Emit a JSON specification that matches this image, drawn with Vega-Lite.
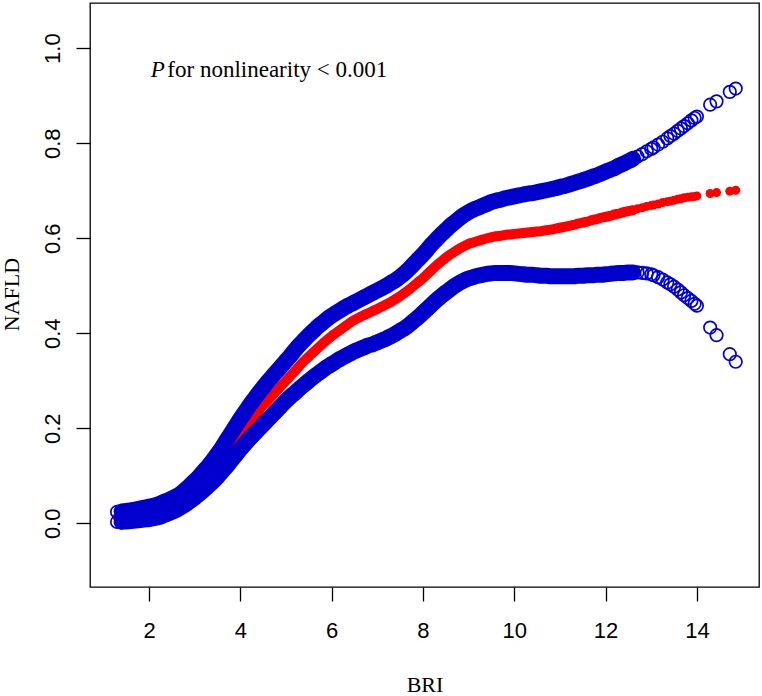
{
"$schema":"https://vega.github.io/schema/vega-lite/v6.json",
"width":669,"height":584,
"autosize":"none",
"padding":{"left":90,"top":3,"right":3,"bottom":109},
"background":"white",
"config":{
"view":{"stroke":"#000","strokeWidth":1.3},
"axis":{"grid":false,"domain":false,"tickColor":"#000","tickWidth":1.3,"tickSize":14,"labelFont":"Liberation Sans","labelFontSize":22,"labelColor":"#000","titleFont":"Liberation Serif","titleFontSize":22,"titleFontWeight":"normal","titleColor":"#000","labelFlush":false,"labelOverlap":false}
},
"data":{"values":[
{"x":1.3,"fit":0.013,"lo":0.003,"hi":0.024},
{"x":1.4,"fit":0.014,"lo":0.003,"hi":0.025},
{"x":1.5,"fit":0.015,"lo":0.004,"hi":0.026},
{"x":1.6,"fit":0.016,"lo":0.005,"hi":0.027},
{"x":1.7,"fit":0.017,"lo":0.006,"hi":0.029},
{"x":1.8,"fit":0.019,"lo":0.007,"hi":0.031},
{"x":1.9,"fit":0.020,"lo":0.008,"hi":0.033},
{"x":2.0,"fit":0.022,"lo":0.009,"hi":0.035},
{"x":2.1,"fit":0.024,"lo":0.011,"hi":0.037},
{"x":2.2,"fit":0.027,"lo":0.013,"hi":0.040},
{"x":2.3,"fit":0.030,"lo":0.016,"hi":0.044},
{"x":2.4,"fit":0.034,"lo":0.020,"hi":0.048},
{"x":2.5,"fit":0.038,"lo":0.024,"hi":0.052},
{"x":2.6,"fit":0.043,"lo":0.028,"hi":0.057},
{"x":2.7,"fit":0.049,"lo":0.034,"hi":0.063},
{"x":2.8,"fit":0.056,"lo":0.040,"hi":0.071},
{"x":2.9,"fit":0.064,"lo":0.047,"hi":0.080},
{"x":3.0,"fit":0.072,"lo":0.054,"hi":0.089},
{"x":3.1,"fit":0.081,"lo":0.062,"hi":0.099},
{"x":3.2,"fit":0.090,"lo":0.070,"hi":0.110},
{"x":3.3,"fit":0.100,"lo":0.079,"hi":0.121},
{"x":3.4,"fit":0.110,"lo":0.088,"hi":0.133},
{"x":3.5,"fit":0.121,"lo":0.098,"hi":0.146},
{"x":3.6,"fit":0.133,"lo":0.109,"hi":0.160},
{"x":3.7,"fit":0.146,"lo":0.120,"hi":0.175},
{"x":3.8,"fit":0.160,"lo":0.132,"hi":0.190},
{"x":3.9,"fit":0.175,"lo":0.144,"hi":0.205},
{"x":4.0,"fit":0.189,"lo":0.156,"hi":0.220},
{"x":4.1,"fit":0.202,"lo":0.167,"hi":0.234},
{"x":4.2,"fit":0.214,"lo":0.178,"hi":0.248},
{"x":4.3,"fit":0.225,"lo":0.188,"hi":0.261},
{"x":4.4,"fit":0.237,"lo":0.198,"hi":0.274},
{"x":4.5,"fit":0.248,"lo":0.208,"hi":0.286},
{"x":4.6,"fit":0.258,"lo":0.218,"hi":0.298},
{"x":4.7,"fit":0.269,"lo":0.228,"hi":0.309},
{"x":4.8,"fit":0.279,"lo":0.238,"hi":0.320},
{"x":4.9,"fit":0.290,"lo":0.248,"hi":0.331},
{"x":5.0,"fit":0.300,"lo":0.258,"hi":0.342},
{"x":5.1,"fit":0.311,"lo":0.267,"hi":0.353},
{"x":5.2,"fit":0.321,"lo":0.275,"hi":0.365},
{"x":5.3,"fit":0.332,"lo":0.284,"hi":0.376},
{"x":5.4,"fit":0.342,"lo":0.292,"hi":0.386},
{"x":5.5,"fit":0.351,"lo":0.300,"hi":0.396},
{"x":5.6,"fit":0.360,"lo":0.308,"hi":0.405},
{"x":5.7,"fit":0.369,"lo":0.315,"hi":0.414},
{"x":5.8,"fit":0.378,"lo":0.322,"hi":0.422},
{"x":5.9,"fit":0.386,"lo":0.329,"hi":0.430},
{"x":6.0,"fit":0.394,"lo":0.335,"hi":0.437},
{"x":6.1,"fit":0.401,"lo":0.341,"hi":0.443},
{"x":6.2,"fit":0.408,"lo":0.347,"hi":0.449},
{"x":6.3,"fit":0.415,"lo":0.352,"hi":0.455},
{"x":6.4,"fit":0.422,"lo":0.357,"hi":0.460},
{"x":6.5,"fit":0.428,"lo":0.362,"hi":0.465},
{"x":6.6,"fit":0.433,"lo":0.366,"hi":0.470},
{"x":6.7,"fit":0.438,"lo":0.370,"hi":0.475},
{"x":6.8,"fit":0.442,"lo":0.374,"hi":0.480},
{"x":6.9,"fit":0.447,"lo":0.377,"hi":0.485},
{"x":7.0,"fit":0.451,"lo":0.381,"hi":0.490},
{"x":7.1,"fit":0.456,"lo":0.385,"hi":0.495},
{"x":7.2,"fit":0.461,"lo":0.389,"hi":0.500},
{"x":7.3,"fit":0.466,"lo":0.394,"hi":0.506},
{"x":7.4,"fit":0.472,"lo":0.399,"hi":0.512},
{"x":7.5,"fit":0.478,"lo":0.405,"hi":0.519},
{"x":7.6,"fit":0.485,"lo":0.411,"hi":0.527},
{"x":7.7,"fit":0.492,"lo":0.418,"hi":0.536},
{"x":7.8,"fit":0.500,"lo":0.426,"hi":0.546},
{"x":7.9,"fit":0.508,"lo":0.434,"hi":0.556},
{"x":8.0,"fit":0.516,"lo":0.443,"hi":0.566},
{"x":8.1,"fit":0.525,"lo":0.452,"hi":0.577},
{"x":8.2,"fit":0.534,"lo":0.461,"hi":0.588},
{"x":8.3,"fit":0.543,"lo":0.470,"hi":0.598},
{"x":8.4,"fit":0.551,"lo":0.478,"hi":0.608},
{"x":8.5,"fit":0.559,"lo":0.486,"hi":0.617},
{"x":8.6,"fit":0.566,"lo":0.493,"hi":0.626},
{"x":8.7,"fit":0.572,"lo":0.500,"hi":0.634},
{"x":8.8,"fit":0.578,"lo":0.506,"hi":0.642},
{"x":8.9,"fit":0.583,"lo":0.511,"hi":0.649},
{"x":9.0,"fit":0.588,"lo":0.515,"hi":0.655},
{"x":9.1,"fit":0.591,"lo":0.518,"hi":0.660},
{"x":9.2,"fit":0.594,"lo":0.521,"hi":0.664},
{"x":9.3,"fit":0.597,"lo":0.523,"hi":0.668},
{"x":9.4,"fit":0.600,"lo":0.525,"hi":0.672},
{"x":9.5,"fit":0.602,"lo":0.526,"hi":0.676},
{"x":9.6,"fit":0.604,"lo":0.527,"hi":0.679},
{"x":9.7,"fit":0.605,"lo":0.527,"hi":0.681},
{"x":9.8,"fit":0.607,"lo":0.527,"hi":0.684},
{"x":9.9,"fit":0.608,"lo":0.527,"hi":0.686},
{"x":10.0,"fit":0.609,"lo":0.526,"hi":0.688},
{"x":10.1,"fit":0.610,"lo":0.525,"hi":0.690},
{"x":10.2,"fit":0.611,"lo":0.524,"hi":0.692},
{"x":10.3,"fit":0.612,"lo":0.523,"hi":0.694},
{"x":10.4,"fit":0.613,"lo":0.523,"hi":0.695},
{"x":10.5,"fit":0.614,"lo":0.522,"hi":0.697},
{"x":10.6,"fit":0.615,"lo":0.521,"hi":0.699},
{"x":10.7,"fit":0.617,"lo":0.521,"hi":0.701},
{"x":10.8,"fit":0.618,"lo":0.520,"hi":0.703},
{"x":10.9,"fit":0.620,"lo":0.520,"hi":0.705},
{"x":11.0,"fit":0.622,"lo":0.520,"hi":0.708},
{"x":11.1,"fit":0.624,"lo":0.520,"hi":0.710},
{"x":11.2,"fit":0.626,"lo":0.520,"hi":0.713},
{"x":11.3,"fit":0.628,"lo":0.520,"hi":0.716},
{"x":11.4,"fit":0.631,"lo":0.521,"hi":0.719},
{"x":11.5,"fit":0.633,"lo":0.521,"hi":0.722},
{"x":11.6,"fit":0.635,"lo":0.522,"hi":0.725},
{"x":11.7,"fit":0.638,"lo":0.522,"hi":0.729},
{"x":11.8,"fit":0.640,"lo":0.523,"hi":0.732},
{"x":11.9,"fit":0.643,"lo":0.523,"hi":0.736},
{"x":12.0,"fit":0.645,"lo":0.524,"hi":0.740},
{"x":12.1,"fit":0.647,"lo":0.525,"hi":0.744},
{"x":12.2,"fit":0.650,"lo":0.526,"hi":0.748},
{"x":12.3,"fit":0.652,"lo":0.527,"hi":0.753},
{"x":12.4,"fit":0.655,"lo":0.527,"hi":0.757},
{"x":12.5,"fit":0.657,"lo":0.528,"hi":0.762},
{"x":12.6,"fit":0.659,"lo":0.528,"hi":0.767},
{"x":12.7,"fit":0.662,"lo":0.528,"hi":0.772},
{"x":12.8,"fit":0.664,"lo":0.527,"hi":0.777},
{"x":12.9,"fit":0.667,"lo":0.526,"hi":0.783},
{"x":13.0,"fit":0.669,"lo":0.524,"hi":0.788},
{"x":13.05,"fit":0.670,"lo":0.522,"hi":0.791},
{"x":13.15,"fit":0.672,"lo":0.518,"hi":0.797},
{"x":13.25,"fit":0.675,"lo":0.513,"hi":0.803},
{"x":13.35,"fit":0.677,"lo":0.507,"hi":0.810},
{"x":13.42,"fit":0.678,"lo":0.503,"hi":0.815},
{"x":13.5,"fit":0.680,"lo":0.498,"hi":0.820},
{"x":13.58,"fit":0.682,"lo":0.492,"hi":0.826},
{"x":13.65,"fit":0.683,"lo":0.486,"hi":0.831},
{"x":13.72,"fit":0.685,"lo":0.480,"hi":0.836},
{"x":13.8,"fit":0.686,"lo":0.474,"hi":0.842},
{"x":13.88,"fit":0.687,"lo":0.468,"hi":0.848},
{"x":13.95,"fit":0.688,"lo":0.462,"hi":0.853},
{"x":14.0,"fit":0.689,"lo":0.458,"hi":0.856},
{"x":14.29,"fit":0.694,"lo":0.412,"hi":0.881},
{"x":14.43,"fit":0.696,"lo":0.396,"hi":0.888},
{"x":14.72,"fit":0.699,"lo":0.356,"hi":0.908},
{"x":14.85,"fit":0.701,"lo":0.340,"hi":0.915}
]},
"encoding":{
"x":{"field":"x","type":"quantitative","scale":{"domain":[0.707,15.36],"nice":false,"zero":false},
"axis":{"values":[2,4,6,8,10,12,14],"labelPadding":19,"title":"BRI","titleY":104,"titleBaseline":"alphabetic"}},
"y":{"field":"value","type":"quantitative","scale":{"domain":[-0.134,1.095],"nice":false,"zero":false},
"axis":{"values":[0,0.2,0.4,0.6,0.8,1.0],"format":".1f","labelAngle":-90,"labelAlign":"center","labelBaseline":"alphabetic","labelPadding":17,"title":"NAFLD","titleAngle":-90,"titleAlign":"center","titleBaseline":"alphabetic","titleX":-71.5,"titleY":291}}
},
"layer":[
{"transform":[{"fold":["fit","lo","hi"],"as":["key","value"]},{"filter":"datum.key == 'fit' && datum.x >= 1.4 && datum.x <= 12.6"}],
 "mark":{"type":"line","color":"#FF0000","strokeWidth":10,"strokeCap":"round","strokeJoin":"round","interpolate":"monotone"}},
{"transform":[{"fold":["fit","lo","hi"],"as":["key","value"]},{"filter":"datum.key == 'fit'"}],
 "mark":{"type":"point","shape":"circle","filled":true,"color":"#FF0000","size":81,"opacity":1}},
{"transform":[{"fold":["fit","lo","hi"],"as":["key","value"]},{"filter":"datum.key != 'fit' && datum.x >= 1.4 && datum.x <= 12.6"}],
 "mark":{"type":"line","color":"#0000CD","strokeWidth":16,"strokeCap":"round","strokeJoin":"round","interpolate":"monotone"},
 "encoding":{"detail":{"field":"key"}}},
{"transform":[{"fold":["fit","lo","hi"],"as":["key","value"]},{"filter":"datum.key != 'fit'"}],
 "mark":{"type":"point","shape":"circle","filled":false,"color":"#0000CD","strokeWidth":1.7,"size":156,"opacity":1}},
{"data":{"values":[{"x":2.037,"value":0.940,"t":"P"}]},
 "mark":{"type":"text","align":"left","baseline":"alphabetic","font":"Liberation Serif","fontSize":23,"fontStyle":"italic","color":"#000"},
 "encoding":{"text":{"field":"t"}}},
{"data":{"values":[{"x":2.401,"value":0.940,"t":"for nonlinearity < 0.001"}]},
 "mark":{"type":"text","align":"left","baseline":"alphabetic","font":"Liberation Serif","fontSize":23,"color":"#000"},
 "encoding":{"text":{"field":"t"}}}
]
}
